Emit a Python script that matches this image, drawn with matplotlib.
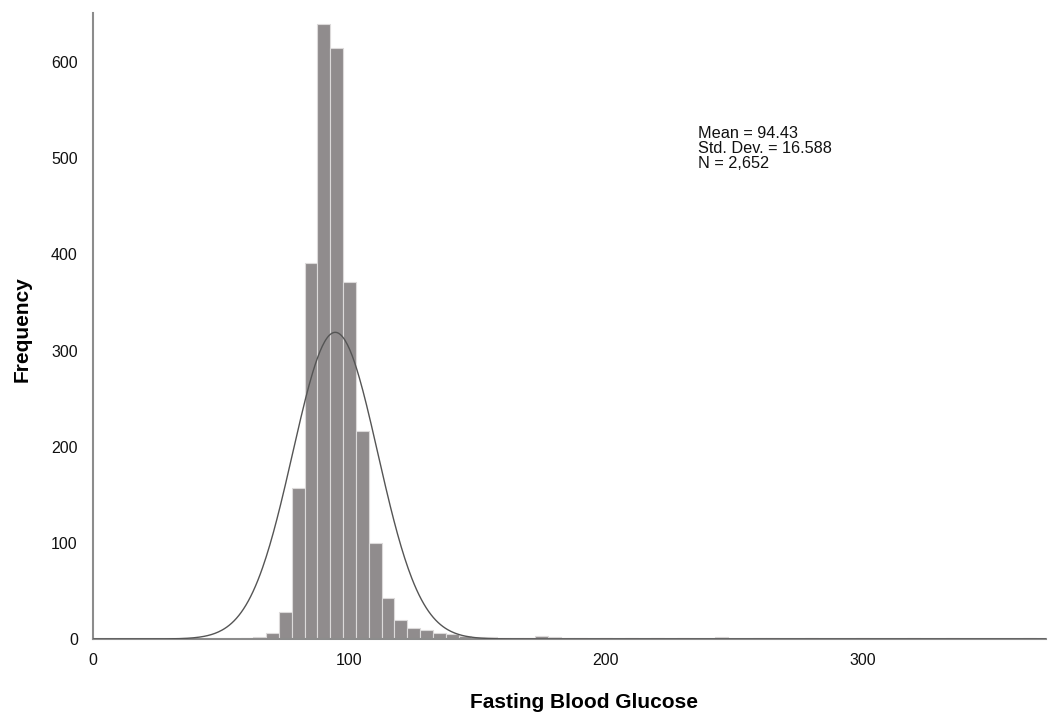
import numpy as np
import matplotlib
matplotlib.use('Agg')
import matplotlib.pyplot as plt

plt.rcParams['font.family'] = ['Liberation Sans', 'DejaVu Sans']

# bin centres (width 5) and counts
bin_centers = [60, 65, 70, 75, 80, 85, 90, 95, 100, 105, 110, 115, 120, 125,
               130, 135, 140, 145, 150, 155, 160, 165, 170, 175, 180, 185,
               190, 200, 210, 220, 230, 245, 260, 265, 280, 300, 320, 335, 365]
counts = [1, 2, 6, 28, 157, 391, 640, 615, 371, 216, 100, 43, 20, 11,
          9, 6, 5, 3, 2, 2, 1, 1, 1, 3, 2, 1,
          1, 1, 1, 1, 1, 2, 1, 1, 1, 1, 1, 1, 1]
bin_width = 5

mean_val = 94.43
std_val = 16.588
n_val = 2652

x_ticks = [0, 100, 200, 300]
y_ticks = [0, 100, 200, 300, 400, 500, 600]

fig = plt.figure(figsize=(10.49, 7.13), dpi=100)
ax = fig.add_axes([0.0887, 0.1038, 0.9083, 0.878])

ax.bar(bin_centers, counts, width=bin_width, color='#908c8d',
       edgecolor='#dcdada', linewidth=0.8, zorder=2)

# normal curve from the reported statistics
xs = np.linspace(0, 372, 800)
ys = n_val * bin_width * np.exp(-0.5 * ((xs - mean_val) / std_val) ** 2) / (std_val * np.sqrt(2 * np.pi))
ax.plot(xs, ys, color='#555555', linewidth=1.0, zorder=3)

ax.set_xlim(0, 371.5)
ax.set_ylim(0, 651)
ax.set_xticks(x_ticks)
ax.set_yticks(y_ticks)
ax.tick_params(axis='both', length=0, labelsize=11.5, colors='#111111')
ax.tick_params(axis='x', pad=10)
ax.tick_params(axis='y', pad=11)

for side in ['top', 'right']:
    ax.spines[side].set_visible(False)
for side in ['left', 'bottom']:
    ax.spines[side].set_color('#8c8c8c')
    ax.spines[side].set_linewidth(1.5)

ax.text(0.635, 0.82, 'Mean = %.2f\nStd. Dev. = %.3f\nN = %s' % (mean_val, std_val, format(n_val, ',')),
        transform=ax.transAxes, fontsize=11.7, va='top', ha='left',
        linespacing=1.0, color='#111111')

fig.text(0.557, 0.007, 'Fasting Blood Glucose', fontsize=15, fontweight='bold',
         ha='center', va='baseline')
fig.text(0.021, 0.538, 'Frequency', fontsize=15, fontweight='bold',
         ha='center', va='center', rotation=90)

fig.savefig('out.png', dpi=100)
